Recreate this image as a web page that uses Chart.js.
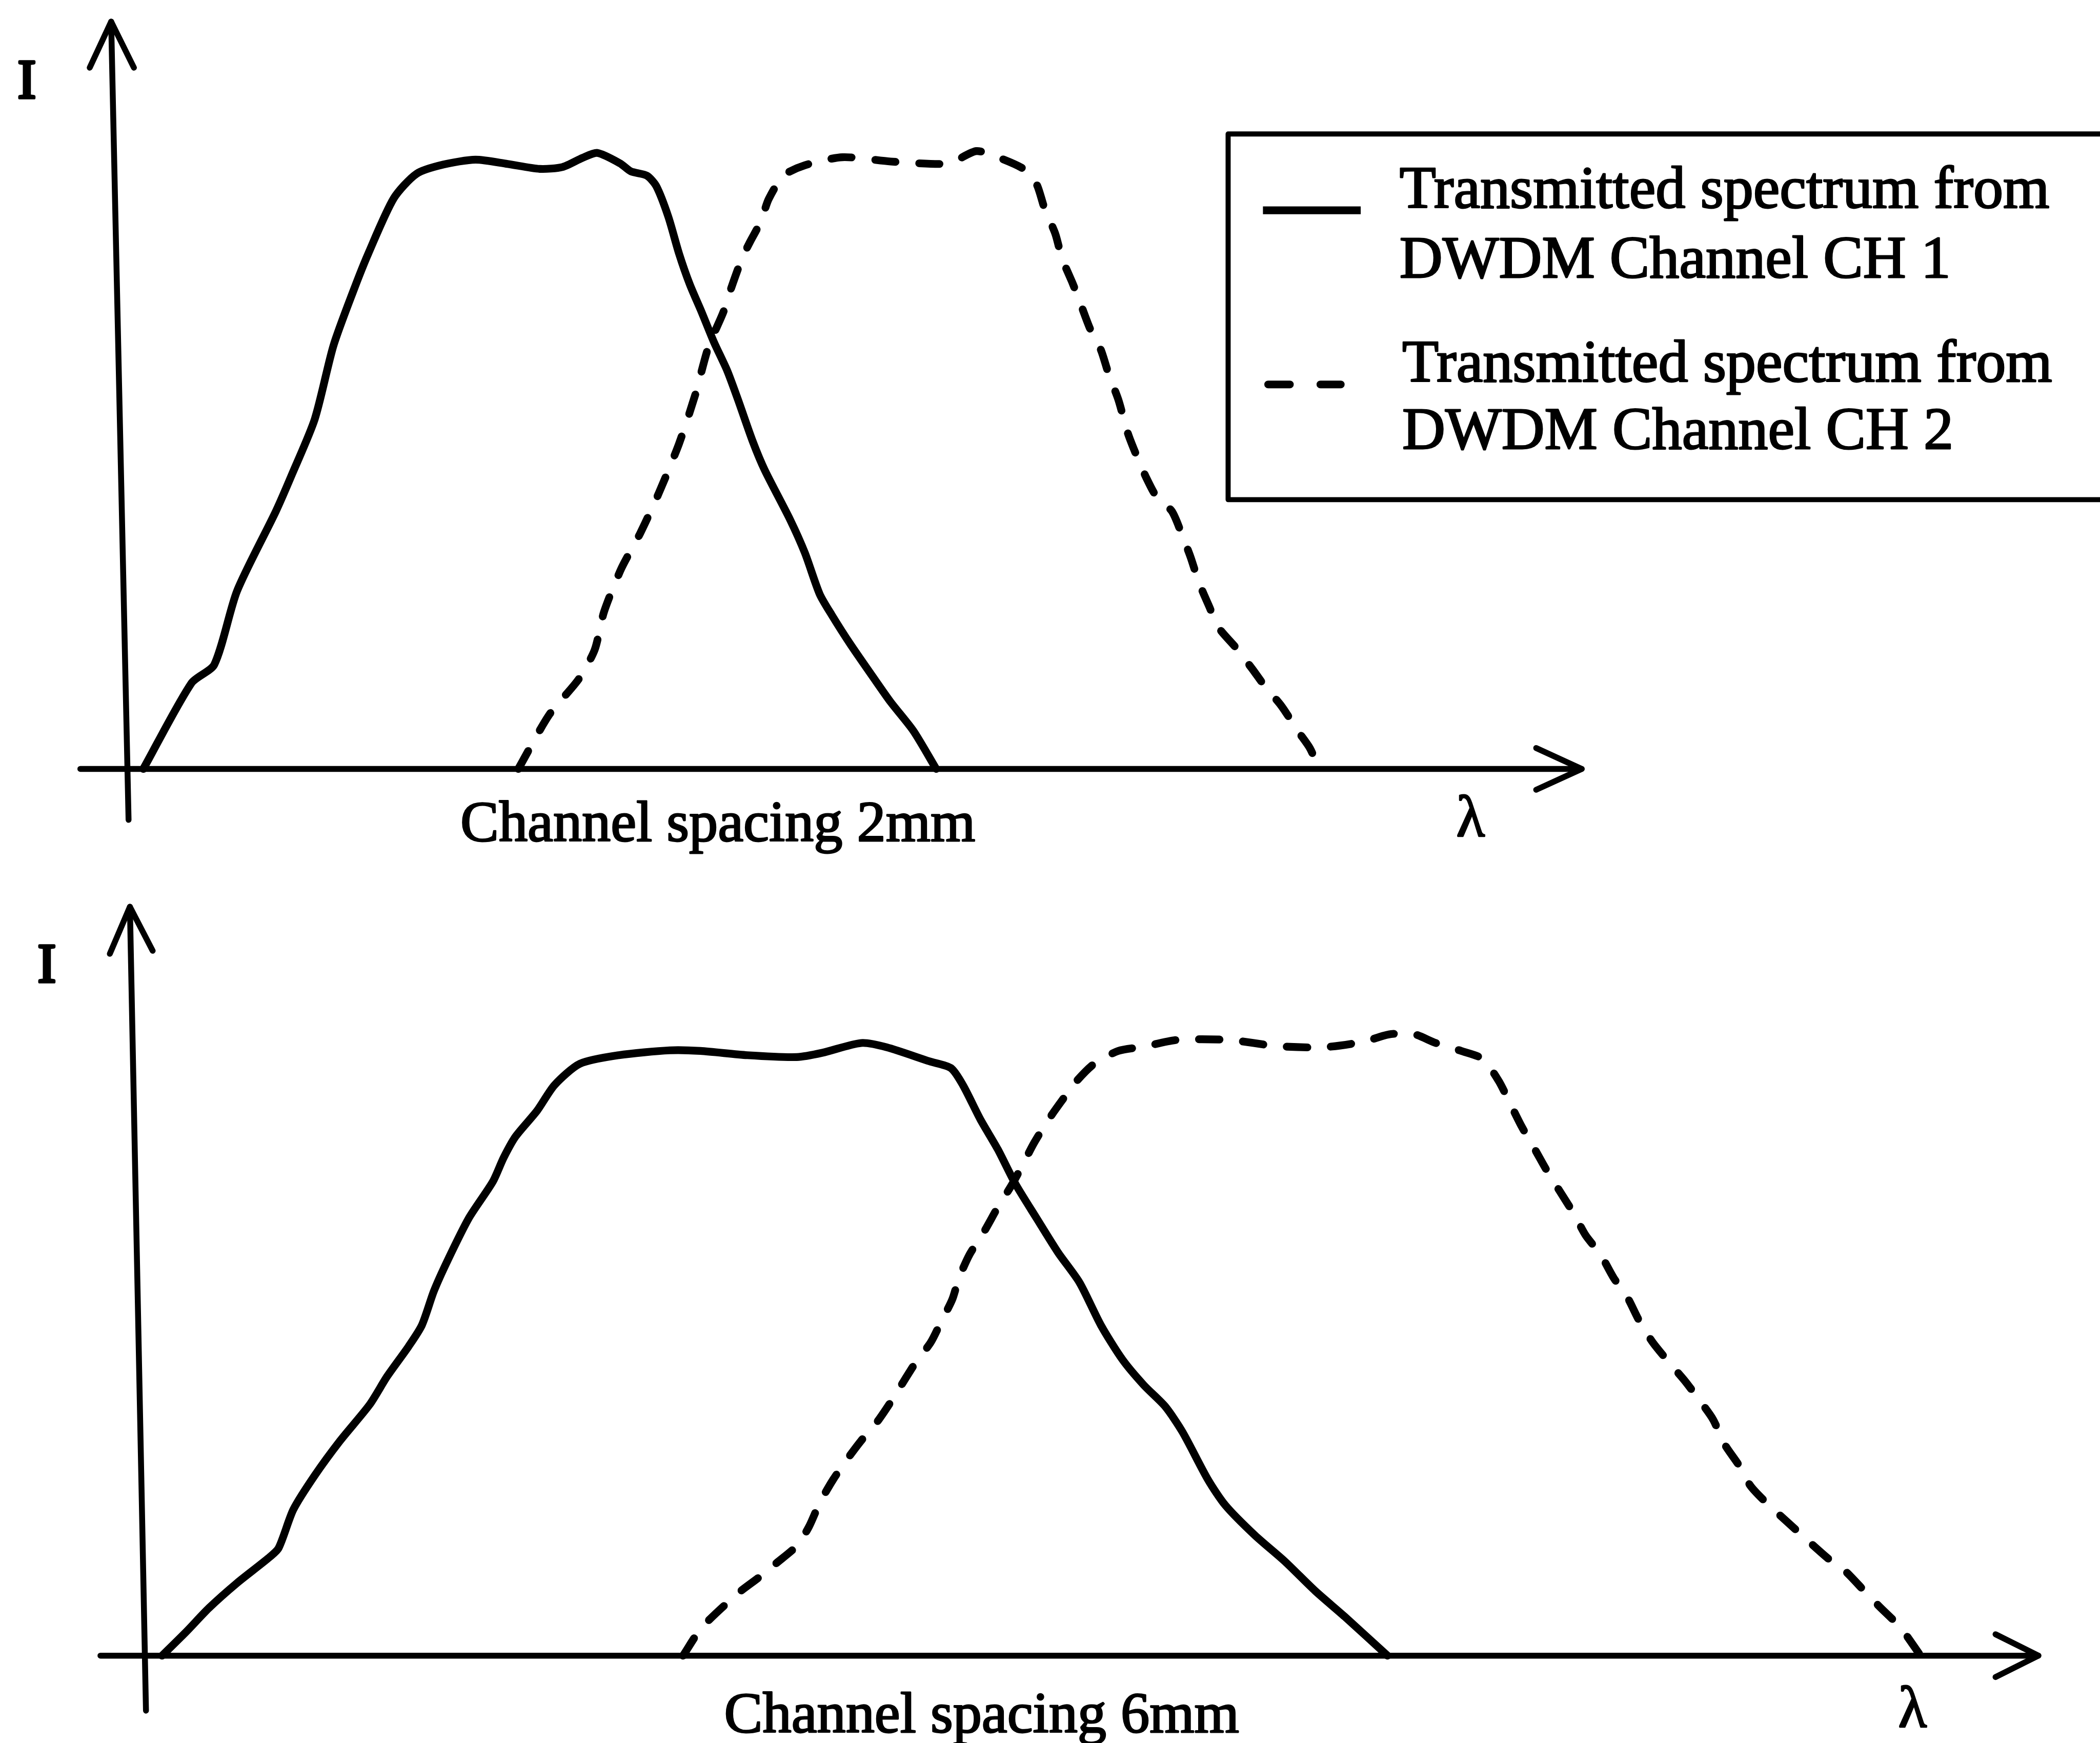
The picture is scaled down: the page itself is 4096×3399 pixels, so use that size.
<!DOCTYPE html>
<html>
<head>
<meta charset="utf-8">
<script src="https://cdn.jsdelivr.net/npm/chart.js@4.4.1/dist/chart.umd.min.js"></script>
<style>
  html, body { margin: 0; padding: 0; background: #fff; }
  #wrap { position: relative; width: 4096px; height: 3399px; overflow: hidden; background: #fff; }
  canvas { position: absolute; left: 0; }
</style>
</head>
<body>
<div id="wrap">
  <canvas id="panelTop" width="4096" height="1700" style="top:0px"></canvas>
  <canvas id="panelBottom" width="4096" height="1699" style="top:1700px"></canvas>
</div>
<script>
// ---- Spectra: wavelength (arbitrary units) and normalised intensity ----
// Upper panel, channel spacing 2 mm
const topCh1Lambda = [0.12, 0.48, 0.65, 0.82, 1.11, 1.23, 1.40, 1.54, 1.69, 1.80, 1.99, 2.16, 2.36, 2.60, 2.84, 3.08, 3.25, 3.40, 3.51, 3.68, 3.76, 3.88, 3.95, 4.04, 4.12, 4.20, 4.29, 4.38, 4.48, 4.56, 4.67, 4.76, 4.95, 5.06, 5.17, 5.26, 5.40, 5.59, 5.70, 5.87, 6.04];
const topCh1I      = [0.00, 0.14, 0.17, 0.29, 0.42, 0.48, 0.57, 0.69, 0.78, 0.84, 0.93, 0.97, 0.985, 0.993, 0.986, 0.978, 0.981, 0.996, 1.004, 0.987, 0.974, 0.967, 0.95, 0.90, 0.84, 0.79, 0.744, 0.696, 0.649, 0.602, 0.534, 0.487, 0.406, 0.352, 0.285, 0.251, 0.203, 0.143, 0.109, 0.062, 0.00];

const topCh2Lambda = [2.92, 3.15, 3.37, 3.49, 3.56, 3.69, 3.83, 3.97, 4.12, 4.24, 4.34, 4.45, 4.51, 4.59, 4.65, 4.73, 4.79, 4.90, 5.06, 5.34, 5.70, 6.06, 6.17, 6.34, 6.50, 6.70, 6.79, 6.85, 6.93, 6.98, 7.06, 7.12, 7.19, 7.27, 7.33, 7.40, 7.47, 7.53, 7.61, 7.69, 7.80, 7.88, 7.94, 8.00, 8.08, 8.15, 8.28, 8.40, 8.49, 8.62, 8.74, 8.83, 8.90];
const topCh2I      = [0.00, 0.088, 0.146, 0.194, 0.256, 0.327, 0.384, 0.45, 0.53, 0.609, 0.688, 0.744, 0.784, 0.832, 0.859, 0.892, 0.929, 0.967, 0.984, 0.997, 0.99, 0.986, 0.99, 1.007, 0.997, 0.977, 0.953, 0.913, 0.872, 0.832, 0.791, 0.757, 0.717, 0.683, 0.642, 0.602, 0.548, 0.514, 0.474, 0.442, 0.42, 0.379, 0.345, 0.305, 0.264, 0.23, 0.197, 0.163, 0.136, 0.102, 0.062, 0.034, 0.00];

// Lower panel, channel spacing 6 mm
const botCh1Lambda = [0.13, 0.31, 0.48, 0.69, 0.92, 1.00, 1.11, 1.27, 1.46, 1.68, 1.81, 1.97, 2.07, 2.16, 2.26, 2.42, 2.60, 2.68, 2.77, 2.93, 3.06, 3.25, 3.54, 3.92, 4.15, 4.50, 4.87, 5.06, 5.35, 5.54, 5.86, 6.02, 6.11, 6.24, 6.37, 6.50, 6.66, 6.82, 6.98, 7.14, 7.30, 7.46, 7.62, 7.75, 7.94, 8.07, 8.29, 8.51, 8.74, 8.96, 9.28];
const botCh1I      = [0.00, 0.039, 0.078, 0.119, 0.159, 0.176, 0.239, 0.295, 0.352, 0.411, 0.457, 0.506, 0.541, 0.597, 0.646, 0.716, 0.776, 0.815, 0.85, 0.892, 0.934, 0.969, 0.983, 0.991, 0.99, 0.983, 0.98, 0.987, 1.003, 0.996, 0.973, 0.962, 0.934, 0.878, 0.829, 0.773, 0.716, 0.66, 0.611, 0.541, 0.485, 0.443, 0.408, 0.366, 0.288, 0.246, 0.197, 0.155, 0.106, 0.064, 0.00];

const botCh2Lambda = [4.02, 4.16, 4.43, 4.58, 4.72, 4.87, 4.96, 5.04, 5.14, 5.25, 5.35, 5.47, 5.57, 5.67, 5.76, 5.87, 5.95, 6.03, 6.08, 6.16, 6.27, 6.37, 6.47, 6.55, 6.64, 6.75, 6.85, 6.96, 7.09, 7.27, 7.46, 7.71, 8.10, 8.45, 8.80, 9.10, 9.29, 9.47, 9.64, 9.83, 9.99, 10.11, 10.20, 10.28, 10.38, 10.47, 10.57, 10.67, 10.76, 10.87, 10.97, 11.07, 11.16, 11.26, 11.39, 11.50, 11.61, 11.71, 11.80, 11.90, 11.99, 12.11, 12.27, 12.39, 12.57, 12.70, 12.84, 12.95, 13.11, 13.26];
const botCh2I      = [0.00, 0.046, 0.102, 0.127, 0.152, 0.18, 0.211, 0.25, 0.288, 0.323, 0.352, 0.383, 0.415, 0.45, 0.481, 0.513, 0.548, 0.583, 0.618, 0.657, 0.695, 0.734, 0.769, 0.801, 0.839, 0.878, 0.909, 0.941, 0.969, 0.99, 0.997, 1.008, 1.008, 0.998, 0.996, 1.005, 1.017, 1.018, 1.003, 0.99, 0.977, 0.941, 0.902, 0.867, 0.829, 0.794, 0.759, 0.724, 0.688, 0.657, 0.618, 0.587, 0.548, 0.513, 0.478, 0.45, 0.418, 0.387, 0.345, 0.313, 0.278, 0.25, 0.218, 0.194, 0.159, 0.138, 0.106, 0.081, 0.046, 0.00];

// ---- Text ----
const seriesLabels = [
  ['Transmitted spectrum from', 'DWDM Channel CH 1'],
  ['Transmitted spectrum from', 'DWDM Channel CH 2']
];
const panelCaptions = ['Channel spacing 2mm', 'Channel spacing 6mm'];
const yAxisLabel = 'I';
const xAxisLabel = '\u03BB';

// ---- Layout (in a 1568-wide frame, scaled to the window) ----
const W = 4096;
const K = W / 1568;
const FONT = '"Liberation Serif", "Times New Roman", Times, serif';
const CURVE_W = 5.8 * K;
const AXIS_W = 4.4 * K;
const INK = 1.1 * K;   // extra stroke that gives the type its heavy printed look

const panels = [
  {
    canvas: 'panelTop', height: 1700,
    origin: { x: 95, y: 574 }, unit: { x: 100, y: 458 },
    xRange: [-0.5, 11.5], yRange: [-0.15, 1.25],
    axes: {
      yFrom: [0.01, -0.083], yTip: [-0.12, 1.218], yArms: [[-0.28, 1.143], [0.05, 1.143]],
      xFrom: [-0.35, 0], xTip: [10.86, 0], xArms: [[10.52, 0.034], [10.52, -0.034]]
    },
    labels: { I: { x: 20, y: 73 }, caption: { x: 536, y: 628 }, lambda: { x: 1098, y: 624 } },
    legend: {
      box: { x: 917, y: 100, w: 720, h: 273 },
      entries: [
        { x0: 943, x1: 1016, y: 157, textX: 1045, baselines: [155, 207] },
        { x0: 944, x1: 1004, y: 287, textX: 1047, baselines: [285, 335] }
      ]
    },
    ch1: [topCh1Lambda, topCh1I], ch2: [topCh2Lambda, topCh2I], caption: panelCaptions[0]
  },
  {
    canvas: 'panelBottom', height: 1699,
    origin: { x: 108, y: 585.2 }, unit: { x: 100, y: 456 },
    xRange: [-0.5, 14.6], yRange: [-0.14, 1.28],
    axes: {
      yFrom: [0.01, -0.09], yTip: [-0.11, 1.226], yArms: [[-0.26, 1.149], [0.06, 1.154]],
      xFrom: [-0.33, 0], xTip: [14.14, 0], xArms: [[13.82, 0.035], [13.82, -0.035]]
    },
    labels: { I: { x: 35, y: 82.2 }, caption: { x: 733, y: 642.2 }, lambda: { x: 1428, y: 638.2 } },
    legend: null,
    ch1: [botCh1Lambda, botCh1I], ch2: [botCh2Lambda, botCh2I], caption: panelCaptions[1]
  }
];

const DASH = [40, 46];

function toPoints(xs, ys) {
  return xs.map((x, i) => ({ x: x, y: ys[i] }));
}

function inkText(ctx, txt, x, y, extra) {
  ctx.save();
  ctx.lineWidth = extra;
  ctx.lineJoin = 'round';
  ctx.setLineDash([]);
  ctx.strokeText(txt, x, y);
  ctx.fillText(txt, x, y);
  ctx.restore();
}

// Axes with arrowheads, axis letters, caption and the boxed key
const sketchPlugin = {
  id: 'sketch',
  afterDraw(chart, args, opts) {
    const p = opts.panel;
    const { ctx } = chart;
    const sx = chart.scales.x, sy = chart.scales.y;
    const P = (v) => [sx.getPixelForValue(v[0]), sy.getPixelForValue(v[1])];
    ctx.save();
    ctx.strokeStyle = '#000';
    ctx.fillStyle = '#000';
    ctx.lineCap = 'round';
    ctx.lineJoin = 'round';
    ctx.lineWidth = AXIS_W;
    const line = (a, b) => {
      const A = P(a), B = P(b);
      ctx.beginPath(); ctx.moveTo(A[0], A[1]); ctx.lineTo(B[0], B[1]); ctx.stroke();
    };
    const arrow = (armA, tip, armB) => {
      const A = P(armA), T = P(tip), B = P(armB);
      ctx.beginPath(); ctx.moveTo(A[0], A[1]); ctx.lineTo(T[0], T[1]); ctx.lineTo(B[0], B[1]); ctx.stroke();
    };
    const ax = p.axes;
    line(ax.yFrom, ax.yTip);
    arrow(ax.yArms[0], ax.yTip, ax.yArms[1]);
    line(ax.xFrom, ax.xTip);
    arrow(ax.xArms[0], ax.xTip, ax.xArms[1]);

    // axis letters and caption
    ctx.textAlign = 'center';
    ctx.textBaseline = 'alphabetic';
    ctx.font = (41 * K) + 'px ' + FONT;
    inkText(ctx, yAxisLabel, p.labels.I.x * K, p.labels.I.y * K, 2.2 * K);
    ctx.font = (44 * K) + 'px ' + FONT;
    inkText(ctx, xAxisLabel, p.labels.lambda.x * K, p.labels.lambda.y * K, INK);
    ctx.font = (43 * K) + 'px ' + FONT;
    inkText(ctx, p.caption, p.labels.caption.x * K, p.labels.caption.y * K, INK);

    // boxed key
    if (p.legend) {
      const L = p.legend;
      ctx.lineWidth = 3.8 * K;
      ctx.lineCap = 'butt';
      ctx.strokeRect(L.box.x * K, L.box.y * K, L.box.w * K, L.box.h * K);
      ctx.textAlign = 'left';
      ctx.font = (44.5 * K) + 'px ' + FONT;
      chart.data.datasets.forEach((ds, i) => {
        const e = L.entries[i];
        ctx.lineWidth = ds.borderWidth;
        const dashed = ds.borderDash && ds.borderDash.length;
        ctx.lineCap = dashed ? 'round' : 'butt';
        if (dashed) {
          const dashLen = 22 * K - ds.borderWidth;
          const gapLen = 17 * K + ds.borderWidth;
          ctx.setLineDash([dashLen, gapLen]);
          ctx.beginPath();
          ctx.moveTo(e.x0 * K + ds.borderWidth / 2, e.y * K);
          ctx.lineTo(e.x1 * K - ds.borderWidth / 2, e.y * K);
          ctx.stroke();
          ctx.setLineDash([]);
        } else {
          ctx.beginPath();
          ctx.moveTo(e.x0 * K, e.y * K);
          ctx.lineTo(e.x1 * K, e.y * K);
          ctx.stroke();
        }
        seriesLabels[i].forEach((txt, j) => inkText(ctx, txt, e.textX * K, e.baselines[j] * K, INK));
      });
    }
    ctx.restore();
  }
};

panels.forEach((p) => {
  const H = p.height;
  const left = (p.origin.x + p.xRange[0] * p.unit.x) * K;
  const right = (p.origin.x + p.xRange[1] * p.unit.x) * K;
  const top = (p.origin.y - p.yRange[1] * p.unit.y) * K;
  const bottom = (p.origin.y - p.yRange[0] * p.unit.y) * K;

  new Chart(document.getElementById(p.canvas), {
    type: 'line',
    data: {
      datasets: [
        {
          label: seriesLabels[0].join(' '),
          data: toPoints(p.ch1[0], p.ch1[1]),
          borderColor: '#000', borderWidth: CURVE_W, borderDash: [],
          borderCapStyle: 'round', borderJoinStyle: 'round',
          pointRadius: 0, tension: 0.25, fill: false
        },
        {
          label: seriesLabels[1].join(' '),
          data: toPoints(p.ch2[0], p.ch2[1]),
          borderColor: '#000', borderWidth: CURVE_W, borderDash: DASH,
          borderCapStyle: 'round', borderJoinStyle: 'round',
          pointRadius: 0, tension: 0.25, fill: false
        }
      ]
    },
    options: {
      responsive: false,
      animation: false,
      devicePixelRatio: 1,
      layout: { padding: { left: left, right: W - right, top: top, bottom: H - bottom } },
      scales: {
        x: { type: 'linear', min: p.xRange[0], max: p.xRange[1], display: false },
        y: { type: 'linear', min: p.yRange[0], max: p.yRange[1], display: false }
      },
      plugins: {
        legend: { display: false },
        tooltip: { enabled: false },
        title: { display: false },
        sketch: { panel: p }
      }
    },
    plugins: [sketchPlugin]
  });
});
</script>
</body>
</html>
